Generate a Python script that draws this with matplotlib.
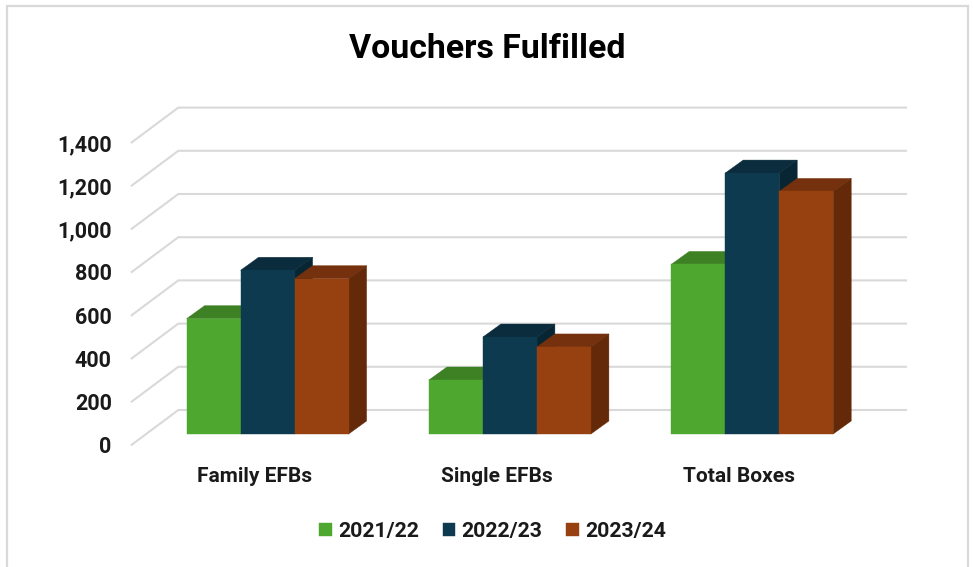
import matplotlib.pyplot as plt
from matplotlib.patches import Polygon, Rectangle

categories = ["Family EFBs", "Single EFBs", "Total Boxes"]
seasons = ["2021/22", "2022/23", "2023/24"]
vals_2122 = [534, 250, 785]
vals_2223 = [758, 449, 1208]
vals_2324 = [719, 403, 1123]
grid_values = [0, 200, 400, 600, 800, 1000, 1200, 1400]

front_colors = ["#4EA72E", "#0E3A4F", "#974010"]
top_colors = ["#3E8024", "#0A2C3C", "#75310D"]
side_colors = ["#3E8024", "#082533", "#632908"]
GRID = "#D9D9D9"

W, H = 973, 567
PX_X = 242.3   # pixels per category
PX_Y = 0.216   # pixels per unit
LEFT, RIGHT, TOP, BOTTOM = 120, 920, 90, 452
X0, Y0 = 267.6, 434  # pixel of first group centre / bar base

bar_w = 54 / PX_X
bar_dx = 18 / PX_X
bar_dy = 13 / PX_Y
wall_left = (178.3 - X0) / PX_X
wall_right = (906 - X0) / PX_X
wall_dx = 46.6 / PX_X
wall_y = 24 / PX_Y
floor_y = -10.8 / PX_Y
label_shift = 13.5 / PX_X

plt.rcParams["font.family"] = ["Roboto", "DejaVu Sans"]
plt.rcParams["font.weight"] = "bold"

fig = plt.figure(figsize=(W / 100, H / 100), dpi=100, facecolor="white")
ax = fig.add_axes([LEFT / W, 1 - BOTTOM / H, (RIGHT - LEFT) / W, (BOTTOM - TOP) / H])
ax.set_xlim((LEFT - X0) / PX_X, (RIGHT - X0) / PX_X)
ax.set_ylim((Y0 - BOTTOM) / PX_Y, (Y0 - TOP) / PX_Y)
ax.patch.set_alpha(0)
for s in ax.spines.values():
    s.set_visible(False)

# outer chart frame, bottom edge runs off the image
fig.add_artist(Rectangle((6.5 / W, -0.05), 961.5 / W, 1.05 - 5.5 / H, transform=fig.transFigure,
                         fill=False, edgecolor=GRID, linewidth=1.6))

# back wall + side wall gridlines
for v in grid_values:
    y = v + wall_y
    ax.plot([wall_left - wall_dx, wall_left, wall_right], [v + floor_y, y, y],
            color=GRID, lw=1.5, zorder=1, solid_joinstyle="miter")

all_vals = [vals_2122, vals_2223, vals_2324]
handles = []
for i, vals in enumerate(all_vals):
    offset = (i - 1) * bar_w
    z = 2 + i
    for j, v in enumerate(vals):
        x1 = j + offset - bar_w / 2
        x2 = x1 + bar_w
        ax.add_patch(Polygon([(x1, v), (x2, v), (x2 + bar_dx, v + bar_dy), (x1 + bar_dx, v + bar_dy)],
                             facecolor=top_colors[i], edgecolor=top_colors[i], lw=0.3, zorder=z))
        ax.add_patch(Polygon([(x2, 0), (x2 + bar_dx, bar_dy), (x2 + bar_dx, v + bar_dy), (x2, v)],
                             facecolor=side_colors[i], edgecolor=side_colors[i], lw=0.3, zorder=z))
    b = ax.bar([j + offset for j in range(3)], vals, width=bar_w, color=front_colors[i],
               edgecolor=front_colors[i], linewidth=0.3, zorder=z + 0.5, label=seasons[i])
    handles.append(b)

ax.set_yticks([v + floor_y for v in grid_values])
ax.set_yticklabels([f"{v:,}" for v in grid_values], fontsize=15.5, color="#1a1a1a")
ax.set_xticks([j - label_shift for j in range(3)])
ax.set_xticklabels(categories, fontsize=15, color="#1a1a1a")
ax.tick_params(axis="y", length=0, pad=6)
ax.tick_params(axis="x", length=0, pad=11)

fig.legend(handles=handles, labels=seasons, ncols=3, loc="center", bbox_to_anchor=(492.5 / W, 1 - 531.5 / H),
           frameon=False, prop={"size": 15.3, "weight": "bold"}, handlelength=0.6, handleheight=0.6,
           handletextpad=0.3, columnspacing=1.1, labelcolor="#1a1a1a")

fig.text(487 / W, 1 - 49.5 / H, "Vouchers Fulfilled", ha="center", va="center", fontsize=24.4,
         fontweight="bold", color="black")

fig.savefig("out.png", dpi=100)
